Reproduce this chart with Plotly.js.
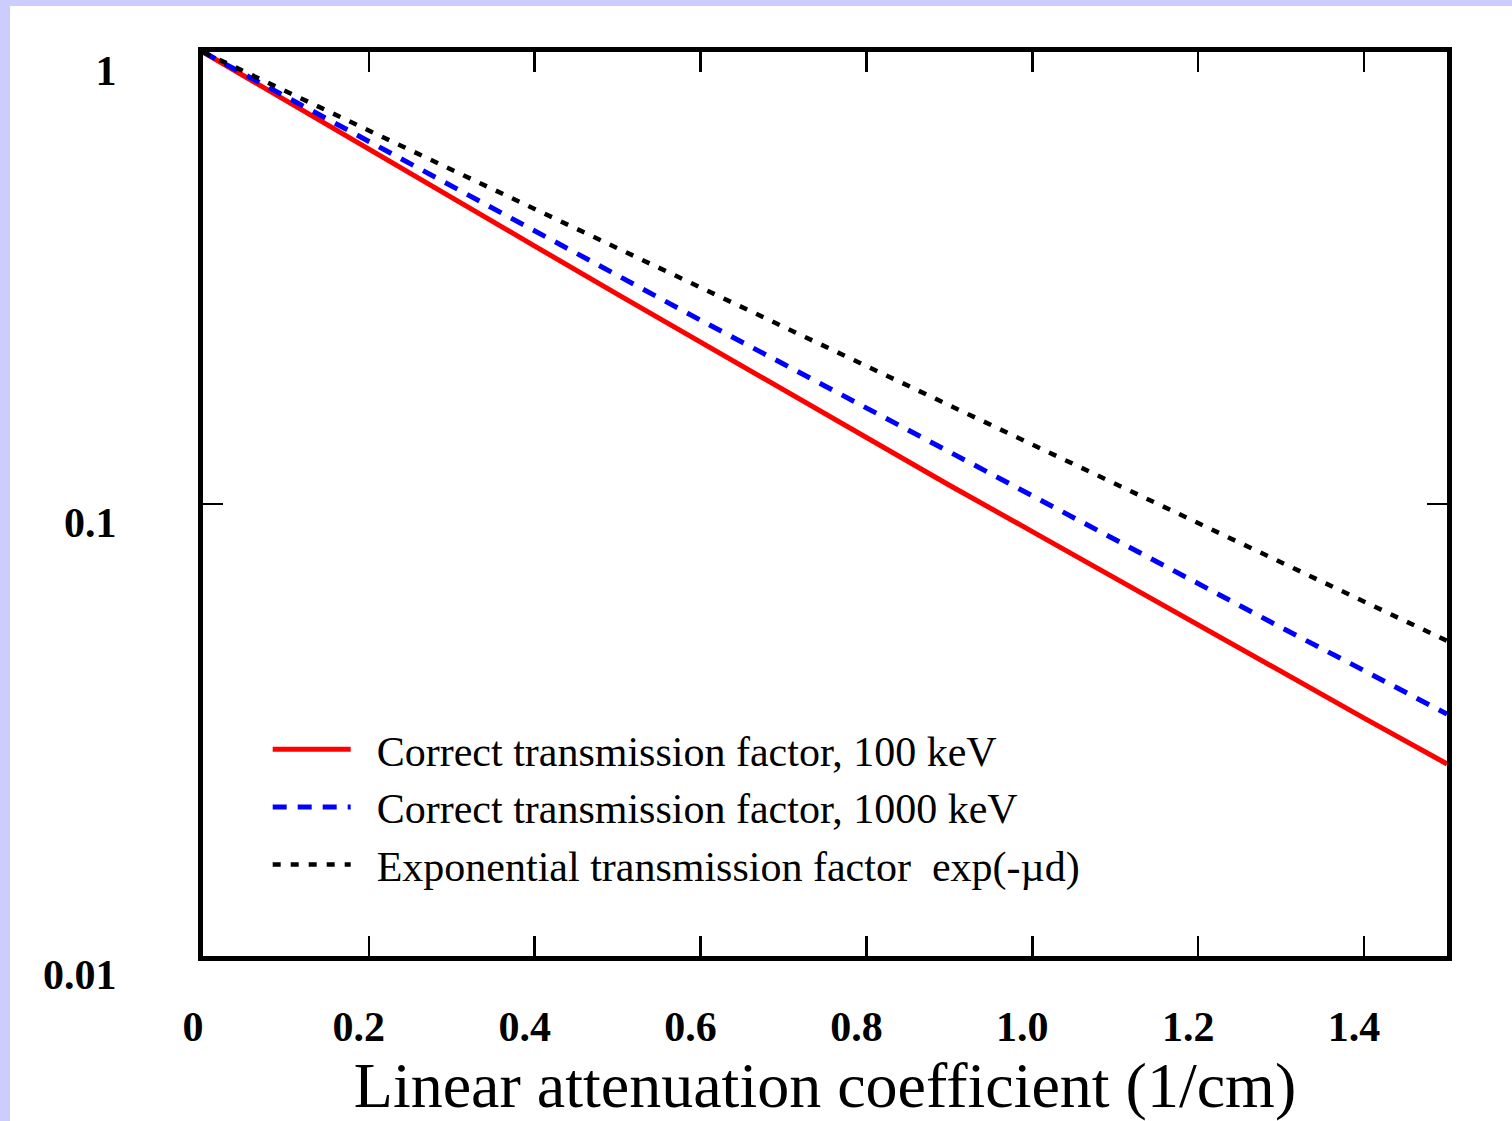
<!DOCTYPE html>
<html>
<head>
<meta charset="utf-8">
<script src="https://cdn.plot.ly/plotly-3.0.1.min.js"></script>
<style>
  html, body { margin: 0; padding: 0; background: #ccccff; width: 1512px; height: 1121px; overflow: hidden; }
  #chart { position: absolute; left: 10px; top: 6px; width: 1502px; height: 1115px; background: #ffffff; }
</style>
</head>
<body>
<div id="chart"></div>
<script>
// Linear attenuation coefficient (1/cm)
const mu = [0, 0.1, 0.2, 0.3, 0.4, 0.5, 0.6, 0.7, 0.8, 0.9, 1.0, 1.1, 1.2, 1.3, 1.4, 1.5];
// Correct transmission factor, 100 keV
const correct100 = [1, 0.780, 0.608, 0.475, 0.372, 0.291, 0.228, 0.179, 0.1405, 0.110, 0.0869, 0.0684, 0.0540, 0.0426, 0.0336, 0.0266];
// Correct transmission factor, 1000 keV
const correct1000 = [1, 0.796, 0.633, 0.504, 0.402, 0.320, 0.255, 0.204, 0.163, 0.130, 0.104, 0.0832, 0.0666, 0.0533, 0.0428, 0.0343];
// Exponential transmission factor exp(-mu d)
const exponential = [1, 0.819, 0.670, 0.549, 0.449, 0.368, 0.301, 0.247, 0.202, 0.165, 0.135, 0.111, 0.0907, 0.0743, 0.0608, 0.0498];

const seriesNames = [
  'Correct transmission factor, 100 keV',
  'Correct transmission factor, 1000 keV',
  'Exponential transmission factor  exp(-\u00b5d)'
];
const xTickVals = [0, 0.2, 0.4, 0.6, 0.8, 1.0, 1.2, 1.4];
const xTickText = ['0', '0.2', '0.4', '0.6', '0.8', '1.0', '1.2', '1.4'];
const yTickVals = [0.01, 0.1, 1];
const yTickText = ['0.01', '0.1', '1'];

const serif = 'Liberation Serif, Times New Roman, serif';
const pad = '\u00a0\u00a0';

const traces = [
  { x: mu, y: correct100, name: pad + seriesNames[0], mode: 'lines',
    line: { color: '#ff0000', width: 5, dash: 'solid' } },
  { x: mu, y: correct1000, name: pad + seriesNames[1], mode: 'lines',
    line: { color: '#0000ff', width: 5, dash: '14px,11px' } },
  { x: mu, y: exponential, name: pad + seriesNames[2], mode: 'lines',
    line: { color: '#000000', width: 4.5, dash: '8px,10px' } }
];

const layout = {
  width: 1502, height: 1115,
  paper_bgcolor: '#ffffff', plot_bgcolor: '#ffffff',
  margin: { l: 193, r: 65, t: 46, b: 165, pad: 0 },
  showlegend: true,
  legend: {
    x: 0.052, y: 0.266, xanchor: 'left', yanchor: 'top',
    bgcolor: 'rgba(0,0,0,0)', borderwidth: 0,
    font: { family: serif, size: 42, color: '#000000' },
    itemwidth: 78, tracegroupgap: 0
  },
  xaxis: {
    range: [0, 1.5], type: 'linear',
    showgrid: false, zeroline: false,
    showline: true, linecolor: '#000000', linewidth: 5, mirror: 'allticks',
    ticks: 'inside', ticklen: 20, tickwidth: 2.5, tickcolor: '#000000',
    tickvals: xTickVals, ticktext: xTickText,
    tickfont: { family: serif, size: 42, color: '#000000', weight: 'bold' },
    ticklabelstandoff: 30, ticklabelshift: -10,
    title: { text: 'Linear attenuation coefficient (1/cm)', standoff: 8,
             font: { family: serif, size: 64, color: '#000000' } },
    automargin: false
  },
  yaxis: {
    type: 'log', range: [-2, 0],
    showgrid: false, zeroline: false,
    showline: true, linecolor: '#000000', linewidth: 5, mirror: 'allticks',
    ticks: 'inside', ticklen: 20, tickwidth: 2.5, tickcolor: '#000000',
    tickvals: yTickVals, ticktext: yTickText,
    tickfont: { family: serif, size: 42, color: '#000000', weight: 'bold' },
    ticklabelstandoff: 73, ticklabelshift: 18,
    automargin: false
  }
};

Plotly.newPlot('chart', traces, layout, { displayModeBar: false, staticPlot: true });
</script>
</body>
</html>
